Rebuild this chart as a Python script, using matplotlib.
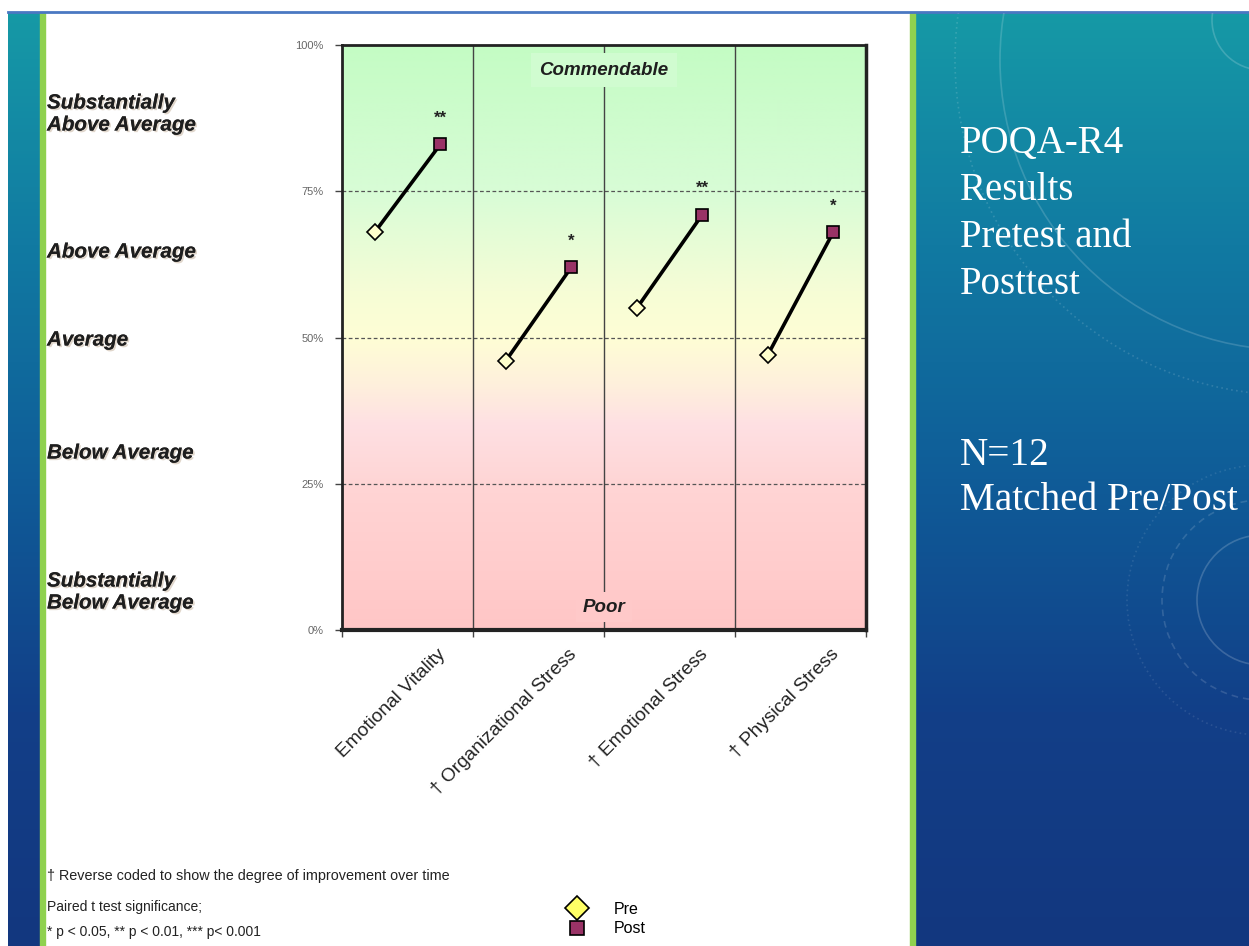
import numpy as np
import matplotlib
matplotlib.use('Agg')
import matplotlib.pyplot as plt
from matplotlib import patheffects as pe
from matplotlib.patches import Rectangle, Circle
from matplotlib.lines import Line2D
from matplotlib.colors import LinearSegmentedColormap
from matplotlib import font_manager as fm

# ---------------- data ----------------
categories = ['Emotional Vitality', '\u2020 Organizational Stress',
              '\u2020 Emotional Stress', '\u2020 Physical Stress']
pre_values = [68, 46, 55, 47]
post_values = [83, 62, 71, 68]
significance = ['**', '*', '**', '*']
y_ticks = [0, 25, 50, 75, 100]
y_tick_labels = ['0%', '25%', '50%', '75%', '100%']
band_labels = ['Substantially\nAbove Average', 'Above Average', 'Average',
               'Below Average', 'Substantially\nBelow Average']
series_names = ['Pre', 'Post']
title_lines = ['POQA-R4', 'Results', 'Pretest and', 'Posttest']
sample_lines = ['N=12', 'Matched Pre/Post']
footnotes = ['\u2020 Reverse coded to show the degree of improvement over time',
             'Paired t test significance;',
             '* p < 0.05, ** p < 0.01, *** p< 0.001']

W, H = 1249, 946
names = {f.name for f in fm.fontManager.ttflist}
SANS = 'Liberation Sans' if 'Liberation Sans' in names else 'DejaVu Sans'
SERIF = 'Liberation Serif' if 'Liberation Serif' in names else 'DejaVu Serif'

fig = plt.figure(figsize=(W / 100, H / 100), dpi=100)
fig.patch.set_facecolor('white')

# ---------------- slide background ----------------
bg = fig.add_axes([0, 0, 1, 1], zorder=0)
bg.set_xlim(0, W)
bg.set_ylim(H, 0)
bg.axis('off')

slide_cmap = LinearSegmentedColormap.from_list(
    'slide', ['#1699a6', '#117aa2', '#0f5c98', '#123f88', '#13377f'])
grad = np.linspace(0, 1, 256).reshape(-1, 1)
bg.imshow(grad, cmap=slide_cmap, extent=[915, W, H, 13], aspect='auto', zorder=1)
bg.imshow(grad, cmap=slide_cmap, extent=[8, 40, H, 13], aspect='auto', zorder=1)
bg.add_patch(Rectangle((40, 13), 5, H - 13, color='#8fd14f', zorder=2))
bg.add_patch(Rectangle((910, 13), 5, H - 13, color='#8fd14f', zorder=2))
bg.plot([8, W], [12, 12], color='#4a78c2', lw=2, zorder=3)

clip = Rectangle((915, 13), W - 915, H - 13, transform=bg.transData)
for (cx, cy, r, ls, a) in [(1290, 60, 290, '-', 0.16), (1290, 60, 335, (0, (1, 2)), 0.14),
                           (1262, 20, 50, '-', 0.18),
                           (1262, 600, 65, '-', 0.18), (1262, 600, 100, (0, (4, 3)), 0.14),
                           (1262, 600, 135, (0, (1, 2)), 0.1)]:
    c = Circle((cx, cy), r, fill=False, ec='white', lw=1.2, ls=ls, alpha=a, zorder=3)
    bg.add_patch(c)
    c.set_clip_path(clip)

# ---------------- chart ----------------
ax = fig.add_axes([342 / W, 1 - 630 / H, 524 / W, 585 / H], zorder=2)
ax.set_xlim(0, len(categories))
ax.set_ylim(0, 100)

chart_cmap = LinearSegmentedColormap.from_list('chart', [
    (0.00, '#ffc6c6'), (0.25, '#ffd5d5'), (0.35, '#fee0e3'), (0.42, '#fff0dc'),
    (0.50, '#fefed5'), (0.58, '#f6fdd6'), (0.75, '#d8fcd6'), (1.00, '#c4fcc4')])
ax.imshow(grad, cmap=chart_cmap, extent=[0, len(categories), 0, 100], origin='lower',
          aspect='auto', zorder=0, interpolation='bilinear')

for yv in y_ticks[1:-1]:
    ax.axhline(yv, color='#555555', lw=0.9, ls=(0, (3, 2)), zorder=1)
for xv in range(1, len(categories)):
    ax.axvline(xv, color='#444444', lw=1.0, zorder=1)

x_pre = [i + 0.25 for i in range(len(categories))]
x_post = [i + 0.75 for i in range(len(categories))]
for xa, xb, a, b in zip(x_pre, x_post, pre_values, post_values):
    ax.plot([xa, xb], [a, b], color='black', lw=2.6, zorder=3, solid_capstyle='round')
ax.plot(x_pre, pre_values, ls='none', marker='D', ms=8.5, mfc='#ffffcc', mec='black',
        mew=1.2, zorder=4)
ax.plot(x_post, post_values, ls='none', marker='s', ms=9, mfc='#993366', mec='black',
        mew=1.2, zorder=4)

for xp, yp, s in zip(x_post, post_values, significance):
    ax.annotate(s, (xp, yp), xytext=(0, 26), textcoords='offset pixels', ha='center',
                va='center', fontsize=12, fontweight='bold', family=SANS, color='#222222')

ax.text(2, 95.7, 'Commendable', ha='center', va='center', fontsize=13.5,
        fontweight='bold', style='italic', family=SANS, color='#1e1e1e', zorder=2,
        bbox=dict(boxstyle='square,pad=0.45', fc='#d0fcd0', ec='none'))
ax.text(2, 3.9, 'Poor', ha='center', va='center', fontsize=13.5,
        fontweight='bold', style='italic', family=SANS, color='#1e1e1e', zorder=2,
        bbox=dict(boxstyle='square,pad=0.35', fc='#ffc9c9', ec='none'))

ax.set_yticks(y_ticks, y_tick_labels)
ax.set_xticks(range(len(categories) + 1))
ax.set_xticklabels([])
ax.tick_params(axis='y', labelsize=8, labelcolor='#666666', length=5, width=1,
               color='#444444', pad=8)
ax.tick_params(axis='x', length=5, width=1, color='#444444')
for lab in ax.get_yticklabels():
    lab.set_family(SANS)
for side, sp in ax.spines.items():
    sp.set_color('#222222')
    sp.set_linewidth(2)
ax.spines['bottom'].set_linewidth(3)
ax.spines['right'].set_linewidth(2.5)

for xp, c in zip(x_post, categories):
    ax.annotate(c, (xp, 0), xytext=(3, -22), textcoords='offset pixels', rotation=45,
                rotation_mode='anchor', ha='right', va='center', fontsize=13.8,
                family=SANS, color='#222222', annotation_clip=False)

# ---------------- left band labels ----------------
band_y = [114, 252, 340, 453, 592]
shadow = [pe.withSimplePatchShadow(offset=(1.2, -1.2), shadow_rgbFace='#9a7a55', alpha=0.3),
          pe.Normal()]
for yy, t in zip(band_y, band_labels):
    fig.text(47 / W, 1 - yy / H, t, ha='left', va='center', fontsize=14.8,
             fontweight='bold', style='italic', family=SANS, color='#1e1e1e',
             linespacing=1.2, path_effects=shadow)

# ---------------- footnotes ----------------
for yy, t, fs in zip([876, 907, 932], footnotes, [10.4, 10.0, 10.0]):
    fig.text(47 / W, 1 - yy / H, t, ha='left', va='center', fontsize=fs,
             family=SANS, color='#222222')

# ---------------- legend ----------------
handles = [Line2D([], [], ls='none', marker='D', ms=12, mfc='#ffff66', mec='black', mew=1.2),
           Line2D([], [], ls='none', marker='s', ms=10.5, mfc='#993366', mec='black', mew=1.2)]
fig.legend(handles, series_names, loc='center left', bbox_to_anchor=(559 / W, 1 - 919 / H),
           frameon=False, prop={'family': SANS, 'size': 11.5}, handletextpad=1.7,
           labelspacing=0.3, handlelength=1.2, borderpad=0)

# ---------------- right text ----------------
for k, t in enumerate(title_lines):
    fig.text(960 / W, 1 - (153 + 47 * k) / H, t, ha='left', va='baseline', fontsize=28,
             family=SERIF, color='white')
for k, t in enumerate(sample_lines):
    fig.text(960 / W, 1 - (465 + 45 * k) / H, t, ha='left', va='baseline', fontsize=28.3,
             family=SERIF, color='white')

fig.savefig('out.png', dpi=100)
